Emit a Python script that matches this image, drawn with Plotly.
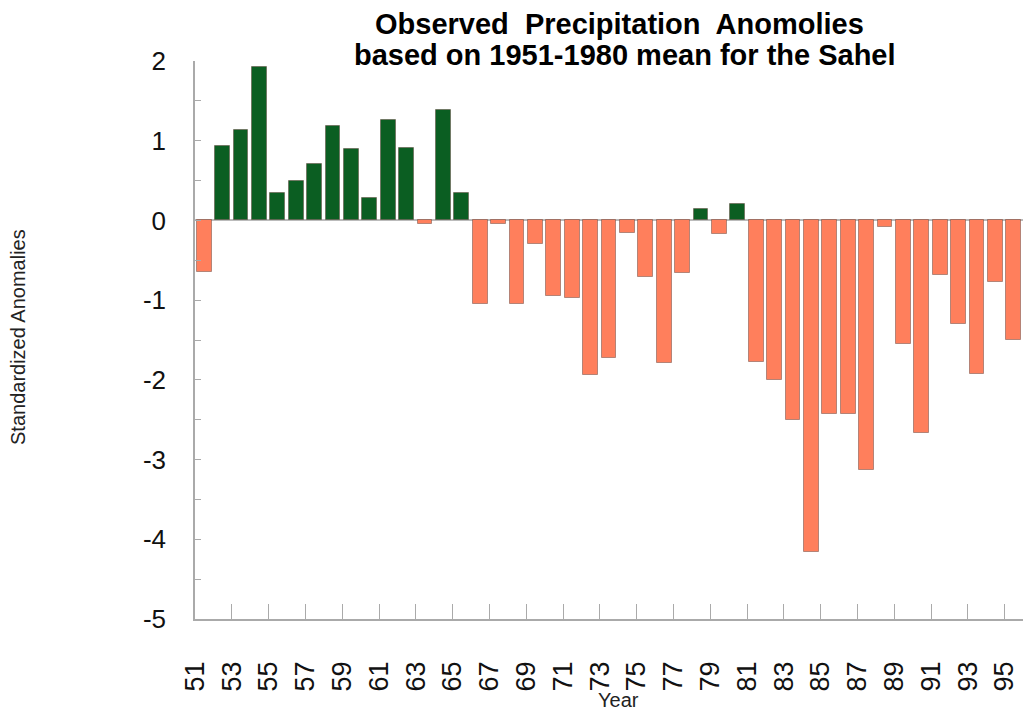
import plotly.graph_objects as go

years = list(range(51, 97))
anomalies = [
    -0.65, 0.94, 1.14, 1.92, 0.35, 0.49, 0.71, 1.19, 0.90, 0.28,
    1.26, 0.91, -0.05, 1.39, 0.35, -1.05, -0.05, -1.05, -0.29, -0.95,
    -0.97, -1.94, -1.73, -0.16, -0.71, -1.79, -0.66, 0.14, -0.17, 0.21,
    -1.78, -2.00, -2.50, -4.16, -2.43, -2.43, -3.13, -0.08, -1.55, -2.67,
    -0.69, -1.30, -1.93, -0.77, -1.50, -0.63,
]
tick_years = list(range(51, 97, 2))
tick_labels = [str(y) for y in tick_years]
y_ticks = [2, 1, 0, -1, -2, -3, -4, -5]
y_labels = ["2", "1", "0", "-1", "-2", "-3", "-4", "-5"]

POS = "#0b5e22"
NEG = "#ff7f5c"
colors = [POS if v >= 0 else NEG for v in anomalies]

# page body has an 8px margin; figure sized to fit the 1031x710 window
OFF = 8
W, H = 1031 - OFF, 710 - OFF
L, R, T, B = 195 - OFF, 0, 61 - OFF, H - (619 - OFF)
pw, ph = W - L - R, H - T - B

def px(x):  # screen pixel -> paper coordinate
    return (x - OFF - L) / pw

def py(y):
    return (H - B - (y - OFF)) / ph

fig = go.Figure()
fig.add_trace(go.Bar(
    x=[y + 0.5 for y in years],
    y=anomalies,
    width=0.8,
    marker=dict(color=colors, line=dict(color="rgba(90,60,50,0.45)", width=1)),
    showlegend=False,
))

font = "Liberation Sans, Arial, Helvetica, sans-serif"

fig.update_layout(
    width=W, height=H,
    margin=dict(l=L, r=R, t=T, b=B),
    plot_bgcolor="white", paper_bgcolor="white",
    font=dict(family=font, color="#111"),
    bargap=0,
    xaxis=dict(
        range=[51, 51 + pw / 18.4],
        tickvals=tick_years, ticktext=tick_labels,
        tickangle=-90, ticks="inside", ticklen=15, tickcolor="#aaa", tickwidth=1,
        showline=True, linecolor="#aaa", linewidth=1.5,
        showgrid=False, zeroline=False, automargin=False,
        tickfont=dict(size=27, color="#111"),
        ticklabelstandoff=30,
    ),
    yaxis=dict(
        range=[-5, 2],
        tickvals=y_ticks, ticktext=y_labels,
        ticks="inside", ticklen=6, tickcolor="#aaa", tickwidth=1,
        minor=dict(dtick=0.5, tick0=0, ticks="inside", ticklen=6, tickcolor="#aaa"),
        showline=True, linecolor="#aaa", linewidth=1.5,
        showgrid=False, zeroline=True, zerolinecolor="#bbb", zerolinewidth=2,
        automargin=False,
        tickfont=dict(size=26, color="#111"),
        ticklabelstandoff=22,
    ),
    annotations=[
        dict(text="<b>Observed  Precipitation  Anomolies</b>", x=px(619), y=py(24),
             xref="paper", yref="paper", showarrow=False, xanchor="center", yanchor="middle",
             font=dict(size=29, color="#000", family=font)),
        dict(text="<b>based on 1951-1980 mean for the Sahel</b>", x=px(625), y=py(55),
             xref="paper", yref="paper", showarrow=False, xanchor="center", yanchor="middle",
             font=dict(size=29, color="#000", family=font)),
        dict(text="Year", x=px(618), y=py(700),
             xref="paper", yref="paper", showarrow=False, xanchor="center", yanchor="middle",
             font=dict(size=20, color="#222", family=font)),
        dict(text="Standardized Anomalies", x=px(18), y=py(337), textangle=-90,
             xref="paper", yref="paper", showarrow=False, xanchor="center", yanchor="middle",
             font=dict(size=20, color="#222", family=font)),
    ],
)

fig.write_html("out.html")
